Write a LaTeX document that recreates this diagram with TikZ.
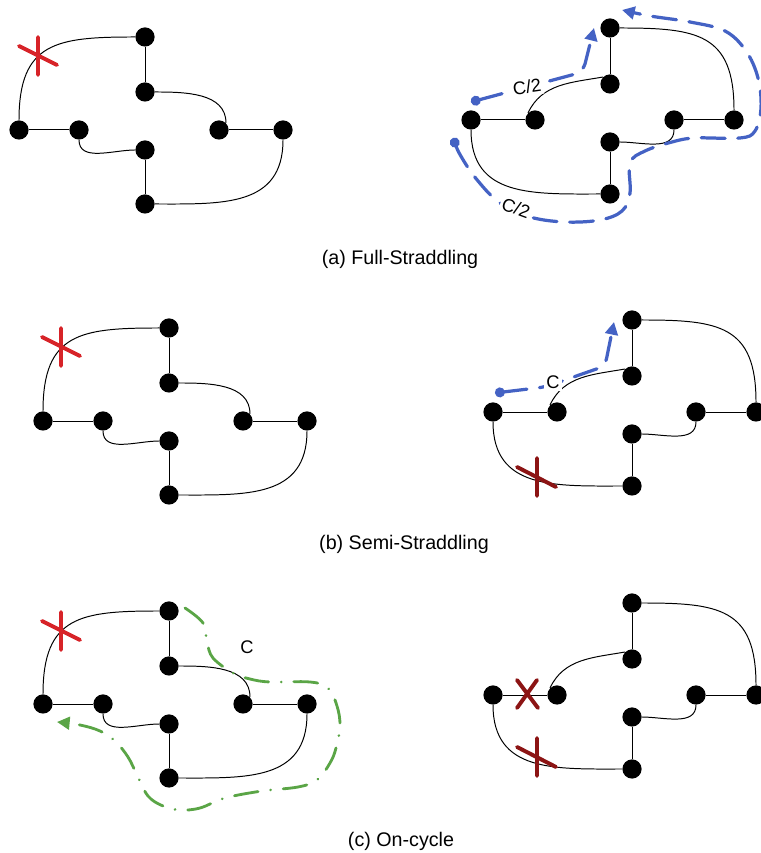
\documentclass[tikz,border=0pt]{standalone}
\usepackage{fontspec}
\setmainfont{Liberation Sans}
\usetikzlibrary{arrows.meta}

\definecolor{cutred}{HTML}{D72328}
\definecolor{cutdark}{HTML}{8C1414}
\definecolor{trailblue}{HTML}{4462C4}
\definecolor{trailgreen}{HTML}{5AA546}

\begin{document}
\begin{tikzpicture}[x=0.025cm, y=0.025cm,
		vertex/.style={circle, fill=black, inner sep=0pt, minimum size=0.48cm},
		link/.style={line width=0.7pt},
		cutmark/.style={line width=2.8pt, line cap=round},
		bluetrail/.style={trailblue, line width=2.3pt, line cap=round, dash pattern=on 17pt off 9pt},
		greentrail/.style={trailgreen, line width=2pt, line cap=round, dash pattern=on 17pt off 9pt on 0.01pt off 9pt},
		subcap/.style={font=\fontsize{14}{16}\selectfont},
		cost/.style={font=\fontsize{13}{15}\selectfont, fill=white, inner sep=1.5pt}]
	\useasboundingbox (0,0) rectangle (761,853);

	% left-hand graphs
	\begin{scope}[shift={(19,723)}]
		\node [vertex] (a1-w) at (0,0) {};
		\node [vertex] (a1-wi) at (60,0) {};
		\node [vertex] (a1-n) at (126,93) {};
		\node [vertex] (a1-ni) at (126,38) {};
		\node [vertex] (a1-ei) at (200,0) {};
		\node [vertex] (a1-e) at (264,0) {};
		\node [vertex] (a1-si) at (126,-20) {};
		\node [vertex] (a1-s) at (126,-74) {};
	\end{scope}
	\begin{scope}[shift={(43,432)}]
		\node [vertex] (b1-w) at (0,0) {};
		\node [vertex] (b1-wi) at (60,0) {};
		\node [vertex] (b1-n) at (126,93) {};
		\node [vertex] (b1-ni) at (126,38) {};
		\node [vertex] (b1-ei) at (200,0) {};
		\node [vertex] (b1-e) at (264,0) {};
		\node [vertex] (b1-si) at (126,-20) {};
		\node [vertex] (b1-s) at (126,-74) {};
	\end{scope}
	\begin{scope}[shift={(43,149)}]
		\node [vertex] (c1-w) at (0,0) {};
		\node [vertex] (c1-wi) at (60,0) {};
		\node [vertex] (c1-n) at (126,93) {};
		\node [vertex] (c1-ni) at (126,38) {};
		\node [vertex] (c1-ei) at (200,0) {};
		\node [vertex] (c1-e) at (264,0) {};
		\node [vertex] (c1-si) at (126,-20) {};
		\node [vertex] (c1-s) at (126,-74) {};
	\end{scope}
	\draw [link] (a1-w) -- (a1-wi) (a1-ei) -- (a1-e) (a1-n) -- (a1-ni) (a1-si) -- (a1-s);
	\draw [link] (a1-w) to[out=90, in=180, looseness=1.4] (a1-n);
	\draw [link] (a1-ni) to[out=0, in=90] (a1-ei.north east);
	\draw [link] (a1-wi) to[out=-90, in=180] (a1-si);
	\draw [link] (a1-e) to[out=-90, in=0, looseness=1.2] (a1-s);
	\draw [link] (b1-w) -- (b1-wi) (b1-ei) -- (b1-e) (b1-n) -- (b1-ni) (b1-si) -- (b1-s);
	\draw [link] (b1-w) to[out=90, in=180, looseness=1.4] (b1-n);
	\draw [link] (b1-ni) to[out=0, in=90] (b1-ei.north east);
	\draw [link] (b1-wi) to[out=-90, in=180] (b1-si);
	\draw [link] (b1-e) to[out=-90, in=0, looseness=1.2] (b1-s);
	\draw [link] (c1-w) -- (c1-wi) (c1-ei) -- (c1-e) (c1-n) -- (c1-ni) (c1-si) -- (c1-s);
	\draw [link] (c1-w) to[out=90, in=180, looseness=1.4] (c1-n);
	\draw [link] (c1-ni) to[out=0, in=90] (c1-ei.north east);
	\draw [link] (c1-wi) to[out=-90, in=180] (c1-si);
	\draw [link] (c1-e) to[out=-90, in=0, looseness=1.2] (c1-s);

	% right-hand graphs
	\begin{scope}[shift={(471,733)}]
		\node [vertex] (a2-w) at (0,0) {};
		\node [vertex] (a2-wi) at (64,0) {};
		\node [vertex] (a2-n) at (139,92) {};
		\node [vertex] (a2-ni) at (139,36) {};
		\node [vertex] (a2-ei) at (203,0) {};
		\node [vertex] (a2-e) at (263,0) {};
		\node [vertex] (a2-si) at (139,-22) {};
		\node [vertex] (a2-s) at (139,-74) {};
	\end{scope}
	\begin{scope}[shift={(493,441)}]
		\node [vertex] (b2-w) at (0,0) {};
		\node [vertex] (b2-wi) at (64,0) {};
		\node [vertex] (b2-n) at (139,92) {};
		\node [vertex] (b2-ni) at (139,36) {};
		\node [vertex] (b2-ei) at (203,0) {};
		\node [vertex] (b2-e) at (263,0) {};
		\node [vertex] (b2-si) at (139,-22) {};
		\node [vertex] (b2-s) at (139,-74) {};
	\end{scope}
	\begin{scope}[shift={(493,158)}]
		\node [vertex] (c2-w) at (0,0) {};
		\node [vertex] (c2-wi) at (64,0) {};
		\node [vertex] (c2-n) at (139,92) {};
		\node [vertex] (c2-ni) at (139,36) {};
		\node [vertex] (c2-ei) at (203,0) {};
		\node [vertex] (c2-e) at (263,0) {};
		\node [vertex] (c2-si) at (139,-22) {};
		\node [vertex] (c2-s) at (139,-74) {};
	\end{scope}
	\draw [link] (a2-w) -- (a2-wi) (a2-ei) -- (a2-e) (a2-n) -- (a2-ni) (a2-si) -- (a2-s);
	\draw [link] (a2-wi.north west) to[out=65, in=190] (a2-ni.north west);
	\draw [link] (a2-n) to[out=0, in=90, looseness=1.4] (a2-e);
	\draw [link] (a2-ei) to[out=-90, in=0] (a2-si);
	\draw [link] (a2-w) to[out=-90, in=180, looseness=1.2] (a2-s);
	\draw [link] (b2-w) -- (b2-wi) (b2-ei) -- (b2-e) (b2-n) -- (b2-ni) (b2-si) -- (b2-s);
	\draw [link] (b2-wi.north west) to[out=65, in=190] (b2-ni.north west);
	\draw [link] (b2-n) to[out=0, in=90, looseness=1.4] (b2-e);
	\draw [link] (b2-ei) to[out=-90, in=0] (b2-si);
	\draw [link] (b2-w) to[out=-90, in=180, looseness=1.2] (b2-s);
	\draw [link] (c2-w) -- (c2-wi) (c2-ei) -- (c2-e) (c2-n) -- (c2-ni) (c2-si) -- (c2-s);
	\draw [link] (c2-wi.north west) to[out=65, in=190] (c2-ni.north west);
	\draw [link] (c2-n) to[out=0, in=90, looseness=1.4] (c2-e);
	\draw [link] (c2-ei) to[out=-90, in=0] (c2-si);
	\draw [link] (c2-w) to[out=-90, in=180, looseness=1.2] (c2-s);

	% cut edges
	\coordinate (xa1) at (38,797);
	\coordinate (xb1) at (61,506);
	\coordinate (xc1) at (61,222);
	\coordinate (xb2) at (537,376);
	\coordinate (xc2) at (537,96);
	\coordinate (xc3) at (527,159);
	\draw [cutmark, cutred] (xa1) ++(0,19) -- ++(0,-38) (xa1) ++(-19,10) -- ++(38,-19);
	\draw [cutmark, cutred] (xb1) ++(0,19) -- ++(0,-38) (xb1) ++(-19,10) -- ++(38,-19);
	\draw [cutmark, cutred] (xc1) ++(0,19) -- ++(0,-38) (xc1) ++(-19,10) -- ++(38,-19);
	\draw [cutmark, cutdark] (xb2) ++(0,19) -- ++(0,-38) (xb2) ++(-20,10) -- ++(39,-20);
	\draw [cutmark, cutdark] (xc2) ++(0,19) -- ++(0,-38) (xc2) ++(-20,10) -- ++(39,-20);
	\draw [cutmark, cutdark] (xc3) ++(-10,14) -- ++(21,-28) (xc3) ++(10,14) -- ++(-20,-28);

	% traversals
	\draw [bluetrail, rounded corners=6pt, {Circle[length=7pt]}-{Triangle[length=9pt, width=9pt]}]
		(471,751) -- (583,781) -- (594,825);
	\draw [bluetrail, {Circle[length=7pt]}-{Triangle[length=9pt, width=9pt]}]
		plot [smooth, tension=0.6] coordinates {(453,715) (462,695) (478,672) (500,650) (530,636)
		(565,631) (600,633) (622,642) (630,660) (630,690) (645,702) (672,711) (695,715) (740,715)
		(755,722) (761,745) (758,775) (746,802) (725,822) (690,831) (650,837) (622,843)};
	\draw [bluetrail, rounded corners=5pt, {Circle[length=7pt]}-{Triangle[length=9pt, width=9pt]}]
		(495,460) -- (545,466) -- (605,487) -- (614,531);
	\draw [greentrail, -{Triangle[length=9pt, width=9pt]}]
		plot [smooth, tension=0.6] coordinates {(185,245) (203,230) (207,211) (213,195) (233,180)
		(250,174) (270,171) (310,171) (328,165) (337,147) (340,127) (336,105) (330,90) (317,73)
		(298,66) (262,62) (225,55) (200,45) (180,43) (163,47) (148,57) (137,78) (128,96) (115,112)
		(100,122) (80,128) (57,131)};

	% costs
	\node [cost, rotate=8] (ca1) at (527,766) {C/2};
	\node [cost, rotate=-20] (ca2) at (516,645) {C/2};
	\node [cost] (cb) at (553,471) {C};
	\node [font=\fontsize{13}{15}\selectfont] (cc) at (247,206) {C};

	% captions
	\node [subcap] (capa) at (400,594) {(a) Full-Straddling};
	\node [subcap] (capb) at (404,309) {(b) Semi-Straddling};
	\node [subcap] (capc) at (401,12) {(c) On-cycle};
\end{tikzpicture}
\end{document}
